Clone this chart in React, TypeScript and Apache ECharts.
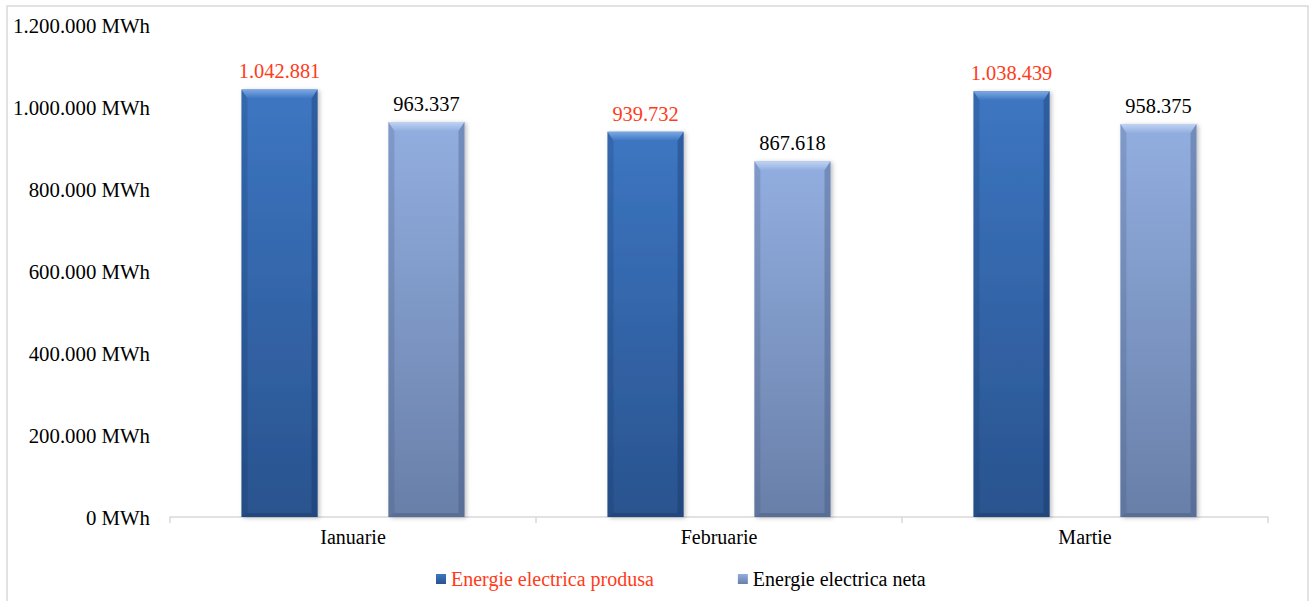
import React, { useEffect, useRef } from "react";
import * as echarts from "echarts";

const categories = ["Ianuarie", "Februarie", "Martie"];
const seriesNames = ["Energie electrica produsa", "Energie electrica neta"];
const produsa = [1042881, 939732, 1038439];
const neta = [963337, 867618, 958375];
const yMax = 1200000;
const yInterval = 200000;

const FONT = "'Liberation Serif', 'Times New Roman', serif";
const BAR_RATIO = 0.208;
const GAP = 0.93;

const fmt = (v: number) => String(Math.round(v)).replace(/\B(?=(\d{3})+(?!\d))/g, ".");

const palette = [
  { top: "#3D76C2", bottom: "#29538E", bevelTop: "#7DA9E3", side: "rgba(20,50,100,0.35)" },
  { top: "#92AEE0", bottom: "#687FA8", bevelTop: "#C0D3F2", side: "rgba(60,80,120,0.35)" },
];

export default function App() {
  const ref = useRef<HTMLDivElement>(null);
  useEffect(() => {
    if (!ref.current) return;
    const chart = echarts.init(ref.current, null, { renderer: "svg" });
    const values = [produsa, neta];
    const overlayData: number[][] = [];
    values.forEach((arr, s) => arr.forEach((v, i) => overlayData.push([i, v, s])));

    const grad = (c: { top: string; bottom: string }) =>
      new echarts.graphic.LinearGradient(0, 0, 0, 1, [
        { offset: 0, color: c.top },
        { offset: 1, color: c.bottom },
      ]);

    chart.setOption({
      animation: false,
      backgroundColor: "#ffffff",
      textStyle: { fontFamily: FONT },
      graphic: [
        {
          type: "rect",
          shape: { x: 7, y: 6, width: 1301, height: 600 },
          style: { fill: "none", stroke: "#D9D9D9", lineWidth: 1.5 },
          silent: true,
        },
      ],
      grid: { left: 170, right: 46, top: 25, bottom: 84 },
      legend: {
        left: 431,
        top: 564,
        itemWidth: 10,
        itemHeight: 10,
        itemGap: 84,
        icon: "rect",
        textStyle: { fontFamily: FONT, fontSize: 20, color: "#000" },
        data: [
          { name: seriesNames[0], textStyle: { color: "#FF3B1A" } },
          { name: seriesNames[1] },
        ],
      },
      xAxis: {
        type: "category",
        data: categories,
        axisLine: { lineStyle: { color: "#D9D9D9", width: 1.5 } },
        axisTick: { show: true, length: 6, lineStyle: { color: "#D9D9D9", width: 1.5 } },
        axisLabel: { fontFamily: FONT, fontSize: 20, color: "#000", margin: 10 },
      },
      yAxis: {
        type: "value",
        min: 0,
        max: yMax,
        interval: yInterval,
        axisLine: { show: false },
        axisTick: { show: false },
        splitLine: { show: false },
        axisLabel: {
          fontFamily: FONT,
          fontSize: 20.8,
          color: "#000",
          margin: 20,
          formatter: (v: number) => fmt(v) + " MWh",
        },
      },
      series: [
        ...values.map((arr, s) => ({
          type: "bar",
          name: seriesNames[s],
          data: arr,
          barWidth: BAR_RATIO * 100 + "%",
          barGap: GAP * 100 + "%",
          itemStyle: {
            color: grad(palette[s]),
            shadowColor: "rgba(0,0,0,0.25)",
            shadowBlur: 4,
            shadowOffsetX: 2,
            shadowOffsetY: 1,
          },
          label: {
            show: true,
            position: "top",
            distance: 8,
            fontFamily: FONT,
            fontSize: 20.4,
            color: s === 0 ? "#FF3B1A" : "#000",
            formatter: (p: any) => fmt(p.value),
          },
        })),
        {
          type: "custom",
          silent: true,
          z: 5,
          data: overlayData,
          renderItem: (params: any, api: any) => {
            const cat = api.value(0);
            const val = api.value(1);
            const s = api.value(2);
            const bw = api.size([1, 0])[0];
            const w = bw * BAR_RATIO;
            const off = (s === 0 ? -1 : 1) * (w * (1 + GAP)) / 2;
            const top = api.coord([cat, val]);
            const base = api.coord([cat, 0]);
            const x0 = top[0] + off - w / 2;
            const x1 = x0 + w;
            const y0 = top[1];
            const y1 = base[1];
            const tb = 9;
            const sd = 6;
            const bb = 4;
            const c = palette[s];
            return {
              type: "group",
              children: [
                {
                  type: "polygon",
                  shape: { points: [[x0, y0], [x1, y0], [x1 - sd, y0 + tb], [x0 + sd, y0 + tb]] },
                  style: {
                    fill: new echarts.graphic.LinearGradient(0, 0, 0, 1, [
                      { offset: 0, color: c.bevelTop },
                      { offset: 1, color: c.top },
                    ]),
                  },
                },
                {
                  type: "polygon",
                  shape: { points: [[x0, y0], [x0 + sd, y0 + tb], [x0 + sd, y1 - bb], [x0, y1]] },
                  style: { fill: c.side, opacity: 0.6 },
                },
                {
                  type: "polygon",
                  shape: { points: [[x1, y0], [x1 - sd, y0 + tb], [x1 - sd, y1 - bb], [x1, y1]] },
                  style: { fill: c.side },
                },
                {
                  type: "polygon",
                  shape: { points: [[x0, y1], [x0 + sd, y1 - bb], [x1 - sd, y1 - bb], [x1, y1]] },
                  style: { fill: c.side },
                },
              ],
            };
          },
        },
      ],
    });
    return () => chart.dispose();
  }, []);
  return (
    <div
      ref={ref}
      style={{ position: "fixed", left: 0, top: 0, width: 1314, height: 601 }}
    />
  );
}
